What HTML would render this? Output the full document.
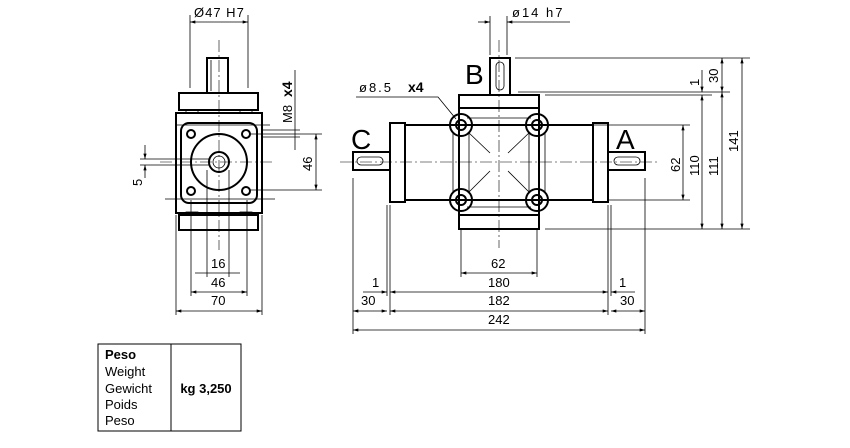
<!DOCTYPE html>
<html><head><meta charset="utf-8"><style>
html,body{margin:0;padding:0;background:#fff;width:850px;height:448px;overflow:hidden}
svg{display:block}
text{font-family:"Liberation Sans",sans-serif;fill:#000}
.t{font-size:13px}
.th{stroke:#000;stroke-width:2;fill:none}
.tn{stroke:#000;stroke-width:0.8;fill:none}
.cl{stroke:#000;stroke-width:0.6;fill:none;stroke-dasharray:12 3 2 3}
</style></head><body>
<svg width="850" height="448" viewBox="0 0 850 448">
<defs>
<marker id="a" viewBox="0 0 10 6" refX="10" refY="3" markerWidth="8" markerHeight="4" orient="auto-start-reverse"><path d="M0,0 L10,3 L0,6z" fill="#000"/></marker>
</defs>

<!-- LEFT VIEW -->
<g>
<rect class="th" x="207" y="58" width="21" height="35"/>
<line class="tn" x1="211" y1="60" x2="211" y2="91"/>
<rect class="th" x="179" y="93" width="79" height="17"/>
<rect class="th" x="176" y="113" width="86" height="100"/>
<rect class="th" x="181" y="123" width="76" height="80" rx="8"/>
<rect class="th" x="179" y="215" width="79" height="15"/>
<rect class="tn" x="186" y="110" width="12" height="3"/><rect class="tn" x="240" y="110" width="12" height="3"/>
<rect class="tn" x="186" y="212" width="12" height="3"/><rect class="tn" x="240" y="212" width="12" height="3"/>
<circle class="th" cx="219" cy="162" r="28"/>
<circle class="th" cx="219" cy="162" r="10"/>
<circle class="tn" cx="219" cy="162" r="6"/>
<circle class="th" cx="191" cy="134" r="4"/><circle class="th" cx="246" cy="134" r="4"/>
<circle class="th" cx="191" cy="191" r="4"/><circle class="th" cx="246" cy="191" r="4"/>
<line class="cl" x1="219" y1="40" x2="219" y2="250"/>
<line class="cl" x1="160" y1="162" x2="275" y2="162"/>
<line class="tn" x1="165" y1="199" x2="275" y2="199"/>
<line class="tn" x1="175" y1="125" x2="270" y2="125"/>
<!-- dims -->
<line class="tn" x1="190" y1="15" x2="190" y2="88"/><line class="tn" x1="248" y1="15" x2="248" y2="88"/>
<line class="tn" x1="190" y1="22" x2="248" y2="22" marker-start="url(#a)" marker-end="url(#a)"/>
<text class="t" x="194" y="17" style="letter-spacing:1px">Ø47  H7</text>
<line class="tn" x1="295" y1="70" x2="295" y2="150"/>
<line class="tn" x1="262" y1="130" x2="300" y2="130"/>
<line class="tn" x1="262" y1="137" x2="300" y2="137"/>
<text class="t" transform="translate(292,123) rotate(-90)">M8</text>
<text transform="translate(292,97) rotate(-90)" style="font-size:14px;font-weight:bold">x4</text>
<line class="tn" x1="250" y1="134" x2="322" y2="134"/><line class="tn" x1="250" y1="190" x2="322" y2="190"/>
<line class="tn" x1="316" y1="134" x2="316" y2="190" marker-start="url(#a)" marker-end="url(#a)"/>
<text class="t" transform="translate(312,171) rotate(-90)">46</text>
<line class="tn" x1="140" y1="159" x2="210" y2="159"/><line class="tn" x1="140" y1="165" x2="210" y2="165"/>
<line class="tn" x1="145" y1="145" x2="145" y2="159" marker-end="url(#a)"/>
<line class="tn" x1="145" y1="178" x2="145" y2="165" marker-end="url(#a)"/>
<text class="t" transform="translate(142,186) rotate(-90)">5</text>
<line class="tn" x1="207" y1="170" x2="207" y2="277"/><line class="tn" x1="229" y1="170" x2="229" y2="277"/>
<line class="tn" x1="195" y1="273" x2="240" y2="273"/>
<text class="t" x="211" y="268">16</text>
<line class="tn" x1="191" y1="200" x2="191" y2="296"/><line class="tn" x1="247" y1="200" x2="247" y2="296"/>
<line class="tn" x1="191" y1="292" x2="247" y2="292" marker-start="url(#a)" marker-end="url(#a)"/>
<text class="t" x="211" y="287">46</text>
<line class="tn" x1="176" y1="215" x2="176" y2="315"/><line class="tn" x1="262" y1="215" x2="262" y2="315"/>
<line class="tn" x1="176" y1="311" x2="262" y2="311" marker-start="url(#a)" marker-end="url(#a)"/>
<text class="t" x="211" y="305">70</text>
</g>

<!-- RIGHT VIEW -->
<g>
<rect class="th" x="405" y="125" width="188" height="75"/>
<rect class="th" x="390" y="123" width="15" height="79" fill="#fff"/>
<rect class="th" x="593" y="123" width="15" height="79" fill="#fff"/>
<rect class="th" x="353" y="152" width="37" height="18" fill="#fff"/>
<rect class="th" x="608" y="152" width="37" height="18" fill="#fff"/>
<rect class="tn" x="357" y="157" width="26" height="8" rx="4"/>
<rect class="tn" x="614" y="157" width="26" height="8" rx="4"/>
<rect class="th" x="459" y="95" width="80" height="13" fill="#fff"/>
<rect class="th" x="459" y="108" width="80" height="107" fill="#fff"/>
<rect class="th" x="459" y="215" width="80" height="14" fill="#fff"/>
<rect class="th" x="490" y="58" width="20" height="37" fill="#fff"/>
<rect class="tn" x="496" y="62" width="8" height="28" rx="4"/>
<line class="tn" x1="467" y1="118" x2="531" y2="118"/><line class="tn" x1="467" y1="207" x2="531" y2="207"/>
<line class="tn" x1="469" y1="133" x2="469" y2="193"/><line class="tn" x1="529" y1="133" x2="529" y2="193"/>
<line class="tn" x1="453" y1="133" x2="453" y2="193"/><line class="tn" x1="545" y1="133" x2="545" y2="193"/>
<circle class="th" cx="461" cy="125" r="11" fill="#fff"/><circle class="th" cx="537" cy="125" r="11" fill="#fff"/>
<circle class="th" cx="461" cy="200" r="11" fill="#fff"/><circle class="th" cx="537" cy="200" r="11" fill="#fff"/>
<circle class="th" cx="461" cy="125" r="5"/><circle class="th" cx="537" cy="125" r="5"/>
<circle class="th" cx="461" cy="200" r="5"/><circle class="th" cx="537" cy="200" r="5"/>
<line class="tn" x1="468" y1="132" x2="490" y2="153"/><line class="tn" x1="530" y1="132" x2="508" y2="153"/>
<line class="tn" x1="468" y1="193" x2="490" y2="171"/><line class="tn" x1="530" y1="193" x2="508" y2="171"/>
<line class="cl" x1="340" y1="162" x2="660" y2="162"/>
<line class="cl" x1="499" y1="40" x2="499" y2="248"/>
<text x="465" y="84" style="font-size:28px">B</text>
<text x="351" y="149" style="font-size:28px">C</text>
<text x="616" y="149" style="font-size:28px">A</text>
<!-- phi 8.5 -->
<text class="t" x="359" y="92" style="letter-spacing:2px">ø8.5</text>
<text x="408" y="92" style="font-size:14px;font-weight:bold">x4</text>
<polyline class="tn" points="356,97 438,97 456,119"/>
<!-- phi 14 -->
<line class="tn" x1="490" y1="16" x2="490" y2="55"/><line class="tn" x1="507" y1="16" x2="507" y2="55"/>
<line class="tn" x1="478" y1="22" x2="490" y2="22" marker-end="url(#a)"/>
<line class="tn" x1="570" y1="22" x2="507" y2="22" marker-end="url(#a)"/>
<text class="t" x="512" y="17" style="letter-spacing:2px">ø14 h7</text>
<!-- right vertical dims -->
<line class="tn" x1="515" y1="58" x2="750" y2="58"/>
<line class="tn" x1="545" y1="95" x2="712" y2="95"/>
<line class="tn" x1="518" y1="92" x2="730" y2="92"/>
<line class="tn" x1="545" y1="229" x2="750" y2="229"/>
<line class="tn" x1="545" y1="125" x2="690" y2="125"/>
<line class="tn" x1="608" y1="200" x2="690" y2="200"/>
<line class="tn" x1="683" y1="125" x2="683" y2="200" marker-start="url(#a)" marker-end="url(#a)"/>
<text class="t" transform="translate(680,172) rotate(-90)">62</text>
<line class="tn" x1="702" y1="70" x2="702" y2="92" marker-end="url(#a)"/>
<line class="tn" x1="702" y1="95" x2="702" y2="229" marker-start="url(#a)" marker-end="url(#a)"/>
<text class="t" transform="translate(699,86) rotate(-90)">1</text>
<text class="t" transform="translate(699,176) rotate(-90)">110</text>
<line class="tn" x1="722" y1="58" x2="722" y2="92" marker-start="url(#a)" marker-end="url(#a)"/>
<line class="tn" x1="722" y1="92" x2="722" y2="229" marker-start="url(#a)" marker-end="url(#a)"/>
<text class="t" transform="translate(718,83) rotate(-90)">30</text>
<text class="t" transform="translate(718,176) rotate(-90)">111</text>
<line class="tn" x1="742" y1="58" x2="742" y2="229" marker-start="url(#a)" marker-end="url(#a)"/>
<text class="t" transform="translate(738,152) rotate(-90)">141</text>
<!-- bottom dims -->
<line class="tn" x1="461" y1="230" x2="461" y2="277"/><line class="tn" x1="537" y1="230" x2="537" y2="277"/>
<line class="tn" x1="461" y1="273" x2="537" y2="273" marker-start="url(#a)" marker-end="url(#a)"/>
<text class="t" x="491" y="268">62</text>
<line class="tn" x1="353" y1="178" x2="353" y2="334"/><line class="tn" x1="645" y1="178" x2="645" y2="334"/>
<line class="tn" x1="390" y1="205" x2="390" y2="315"/><line class="tn" x1="608" y1="205" x2="608" y2="315"/>
<line class="tn" x1="387" y1="205" x2="387" y2="296"/><line class="tn" x1="611" y1="205" x2="611" y2="296"/>
<line class="tn" x1="363" y1="292" x2="387" y2="292" marker-end="url(#a)"/>
<line class="tn" x1="390" y1="292" x2="608" y2="292" marker-start="url(#a)" marker-end="url(#a)"/>
<line class="tn" x1="635" y1="292" x2="611" y2="292" marker-end="url(#a)"/>
<text class="t" x="372" y="287">1</text><text class="t" x="619" y="287">1</text>
<text class="t" x="488" y="287">180</text>
<line class="tn" x1="353" y1="311" x2="387" y2="311" marker-start="url(#a)" marker-end="url(#a)"/>
<line class="tn" x1="390" y1="311" x2="608" y2="311" marker-start="url(#a)" marker-end="url(#a)"/>
<line class="tn" x1="611" y1="311" x2="645" y2="311" marker-start="url(#a)" marker-end="url(#a)"/>
<text class="t" x="361" y="305">30</text><text class="t" x="620" y="305">30</text>
<text class="t" x="488" y="305">182</text>
<line class="tn" x1="353" y1="330" x2="645" y2="330" marker-start="url(#a)" marker-end="url(#a)"/>
<text class="t" x="488" y="324">242</text>
</g>

<!-- TABLE -->
<rect x="98" y="344" width="143" height="87" fill="none" stroke="#000" stroke-width="1"/>
<line x1="171" y1="344" x2="171" y2="431" stroke="#000" stroke-width="1"/>
<text x="105" y="359" style="font-size:13px;font-weight:bold">Peso</text>
<text x="105" y="376" style="font-size:13px">Weight</text>
<text x="105" y="393" style="font-size:13px">Gewicht</text>
<text x="105" y="409" style="font-size:13px">Poids</text>
<text x="105" y="425" style="font-size:13px">Peso</text>
<text x="206" y="393" text-anchor="middle" style="font-size:13px;font-weight:bold">kg 3,250</text>
</svg>
</body></html>
